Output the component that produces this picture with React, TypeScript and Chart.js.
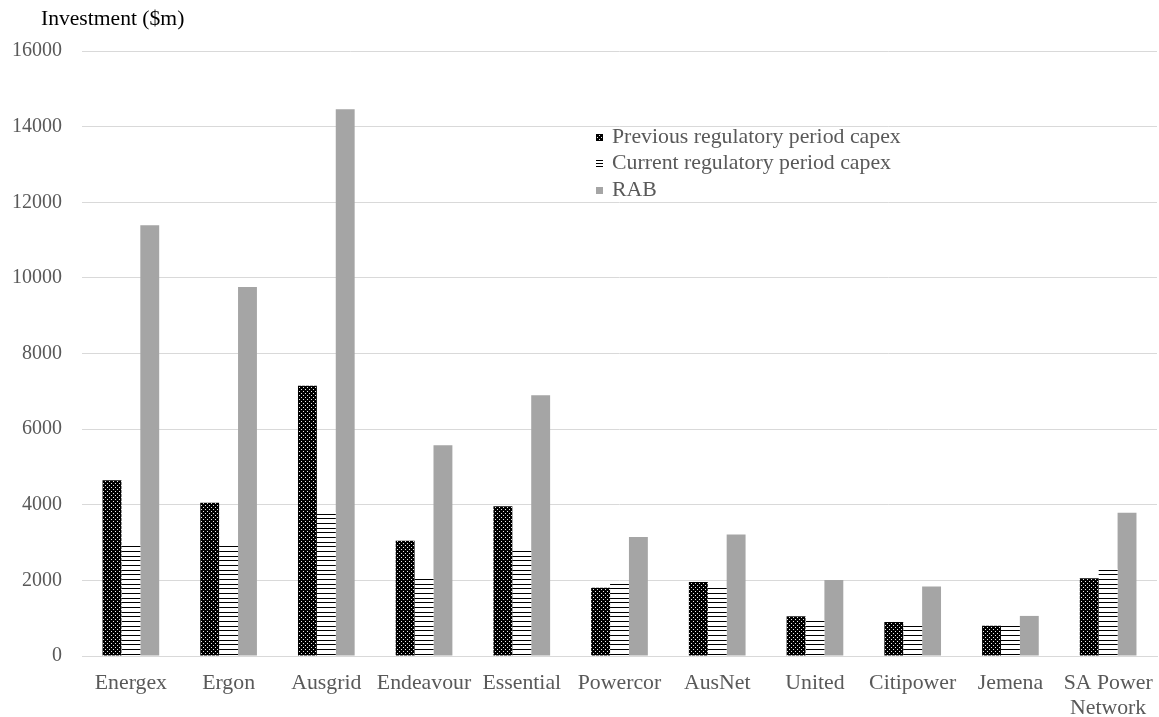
import React, { useEffect, useRef } from "react";
import { Chart, registerables } from "chart.js";

Chart.register(...registerables);

const categories: (string | string[])[] = [
  "Energex",
  "Ergon",
  "Ausgrid",
  "Endeavour",
  "Essential",
  "Powercor",
  "AusNet",
  "United",
  "Citipower",
  "Jemena",
  ["SA Power", "Network"],
];

const previousCapex = [4650, 4050, 7150, 3050, 3960, 1805, 1960, 1050, 900, 800, 2055];
const currentCapex = [2940, 2940, 3810, 2055, 2800, 1940, 1805, 945, 810, 800, 2310];
const rab = [11390, 9760, 14460, 5575, 6895, 3150, 3210, 2010, 1835, 1060, 3790];

const seriesLabels = [
  "Previous regulatory period capex",
  "Current regulatory period capex",
  "RAB",
];

const yTickMin = 0;
const yTickMax = 16000;
const yTickStep = 2000;
const yAxisTitle = "Investment ($m)";

const FONT = "'Liberation Serif', 'Times New Roman', serif";
const GRID = "#d9d9d9";
const TEXT = "#595959";
const RAB_COLOR = "#a5a5a5";

function makeDotPattern(ctx: CanvasRenderingContext2D) {
  const c = document.createElement("canvas");
  c.width = 4;
  c.height = 4;
  const g = c.getContext("2d")!;
  g.fillStyle = "#000";
  g.fillRect(0, 0, 4, 4);
  g.fillStyle = "#e8e8e8";
  g.fillRect(1, 1, 1, 1);
  g.fillRect(3, 3, 1, 1);
  return ctx.createPattern(c, "repeat")!;
}

function makeStripePattern(ctx: CanvasRenderingContext2D) {
  const c = document.createElement("canvas");
  c.width = 4;
  c.height = 14;
  const g = c.getContext("2d")!;
  g.fillStyle = "#fff";
  g.fillRect(0, 0, 4, 14);
  g.fillStyle = "#000";
  g.fillRect(0, 0, 4, 1);
  g.fillRect(0, 5, 4, 1);
  g.fillRect(0, 10, 4, 1);
  return ctx.createPattern(c, "repeat")!;
}

export default function App() {
  const canvasRef = useRef<HTMLCanvasElement | null>(null);

  useEffect(() => {
    const canvas = canvasRef.current!;
    const ctx = canvas.getContext("2d")!;
    const dots = makeDotPattern(ctx);
    const stripes = makeStripePattern(ctx);

    const overlayPlugin = {
      id: "overlay",
      afterDraw(chart: any) {
        const c = chart.ctx as CanvasRenderingContext2D;
        c.save();
        // axis title
        c.font = `21.6px ${FONT}`;
        c.fillStyle = "#000";
        c.textAlign = "left";
        c.textBaseline = "alphabetic";
        c.fillText(yAxisTitle, 41, 25);
        // legend
        const x0 = 596;
        const y0 = 137;
        const pitch = 26.7;
        c.font = `21.8px ${FONT}`;
        c.textBaseline = "middle";
        seriesLabels.forEach((lab, i) => {
          const cy = y0 + i * pitch;
          const top = Math.round(cy - 3.5);
          if (i === 0) {
            c.fillStyle = dots;
            c.fillRect(x0, top, 7, 7);
          } else if (i === 1) {
            c.fillStyle = "#000";
            c.fillRect(x0, top, 7, 1);
            c.fillRect(x0, top + 3, 7, 1);
            c.fillRect(x0, top + 6, 7, 1);
          } else {
            c.fillStyle = RAB_COLOR;
            c.fillRect(x0, top, 7, 7);
          }
          c.fillStyle = TEXT;
          c.fillText(lab, 612, cy);
        });
        c.restore();
      },
    };

    const chart = new Chart(canvas, {
      type: "bar",
      data: {
        labels: categories,
        datasets: [
          { label: seriesLabels[0], data: previousCapex, backgroundColor: dots as any, borderWidth: 0 },
          { label: seriesLabels[1], data: currentCapex, backgroundColor: stripes as any, borderWidth: 0 },
          { label: seriesLabels[2], data: rab, backgroundColor: RAB_COLOR, borderWidth: 0 },
        ],
      },
      options: {
        responsive: false,
        animation: false,
        layout: { padding: { top: 51, right: 2, bottom: 0, left: 0 } },
        datasets: {
          bar: { barPercentage: 1, categoryPercentage: 0.58 },
        },
        plugins: {
          legend: { display: false },
          title: { display: false },
          tooltip: { enabled: false },
        },
        scales: {
          x: {
            grid: { display: false, drawTicks: false },
            border: { display: true, color: GRID, width: 1 },
            ticks: {
              color: TEXT,
              font: { family: FONT, size: 21.8, lineHeight: "25px" as any },
              padding: 14.5,
              maxRotation: 0,
              autoSkip: false,
            },
            afterFit(scale: any) {
              scale.height = 61;
              scale.paddingLeft = 0;
              scale.paddingRight = 0;
            },
          },
          y: {
            min: yTickMin,
            max: yTickMax,
            grid: { color: GRID, lineWidth: 1, drawTicks: false },
            border: { display: false },
            ticks: {
              stepSize: yTickStep,
              color: TEXT,
              font: { family: FONT, size: 20 },
              padding: 20,
              callback: (v: any) => String(v),
            },
            afterFit(scale: any) {
              scale.width = 82;
              scale.paddingTop = 0;
              scale.paddingBottom = 0;
            },
          },
        },
      },
      plugins: [overlayPlugin],
    });

    return () => chart.destroy();
  }, []);

  return (
    <canvas
      ref={canvasRef}
      width={1159}
      height={717}
      style={{ position: "absolute", left: 0, top: 0, display: "block" }}
    />
  );
}
